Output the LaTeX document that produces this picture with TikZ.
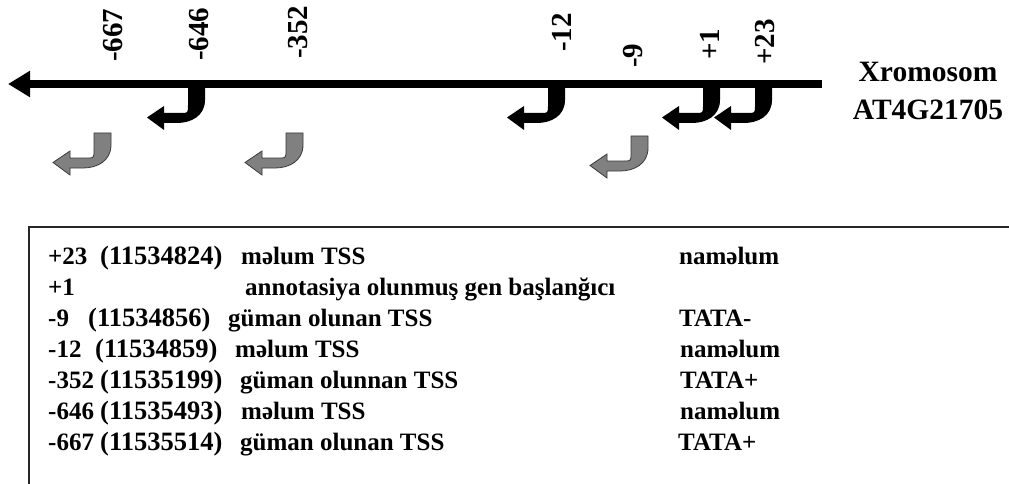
\documentclass[tikz,border=0pt]{standalone}
\usepackage{fontspec}
\setmainfont{Liberation Serif}
\usetikzlibrary{arrows.meta}
\definecolor{tssgrey}{HTML}{808080}
\definecolor{tssedge}{HTML}{3A3A3A}
\newcommand\tssshape[1]{(-17,#1) -- (0,#1) -- (0,12) .. controls (0,28) and (-14,35) .. (-28,35) -- (-41,35) -- (-41,42) -- (-58,29.5) -- (-41,18) -- (-41,25) -- (-24,25) .. controls (-17,25) .. (-17,17) -- cycle}
\tikzset{
  tssblack/.pic={\fill[black] \tssshape{-3};},
  tssgray/.pic={\filldraw[fill=tssgrey, draw=tssedge, line width=0.8pt] \tssshape{0};},
  poslabel/.style={rotate=90, anchor=west, inner sep=0pt, font=\bfseries\fontsize{29}{31}\selectfont},
  chrlabel/.style={anchor=base, inner sep=0pt, font=\bfseries\fontsize{29.5}{32}\selectfont},
  cell/.style={anchor=base west, inner sep=0pt, font=\bfseries\fontsize{25}{28}\selectfont},
  numcell/.style={cell, font=\bfseries\fontsize{26.5}{28}\selectfont},
}
\begin{document}
\begin{tikzpicture}[x=1pt, y=-1pt]
\useasboundingbox (0,0) rectangle (1009,484);
% bent arrows (TSS)
\pic at (205,88) {tssblack};
\pic at (565,88) {tssblack};
\pic at (720,88) {tssblack};
\pic at (772,88) {tssblack};
\pic at (111,133) {tssgray};
\pic at (303,133) {tssgray};
\pic at (648,136) {tssgray};
% chromosome line
\coordinate (chrR) at (822,84);
\coordinate (chrL) at (8,84);
\draw[line width=8.5pt, -{Triangle[length=22pt, width=25pt]}] (chrR) -- (chrL);
% position labels
\node[poslabel] (l667) at (113,62) {-667};
\node[poslabel] (l646) at (199,61) {-646};
\node[poslabel] (l352) at (298,59) {-352};
\node[poslabel] (l12) at (562,52) {-12};
\node[poslabel] (l9) at (633,68) {-9};
\node[poslabel] (l1) at (710,60) {+1};
\node[poslabel] (l23) at (765,65) {+23};
% chromosome name
\node[chrlabel] (chr1) at (928,82) {Xromosom};
\node[chrlabel] (chr2) at (928,120) {AT4G21705};
% table frame
\coordinate (tbl) at (29,484);
\coordinate (tbc) at (29,227);
\coordinate (tbr) at (1009,227);
\draw[line width=1.4pt, color=black!85] (tbl) -- (tbc) -- (tbr);
% rows
\node[cell] (a1) at (48,264) {+23};
\node[numcell] (b1) at (100,264) {(11534824)};
\node[cell] (c1) at (241,264) {məlum TSS};
\node[cell] (d1) at (679,264) {naməlum};
\node[cell] (a2) at (48,295) {+1};
\node[cell] (c2) at (245,295) {annotasiya olunmuş gen başlanğıcı};
\node[cell] (a3) at (48,326) {-9};
\node[numcell] (b3) at (88,326) {(11534856)};
\node[cell] (c3) at (228,326) {güman olunan TSS};
\node[cell] (d3) at (679,326) {TATA-};
\node[cell] (a4) at (48,357) {-12};
\node[numcell] (b4) at (95,357) {(11534859)};
\node[cell] (c4) at (235,357) {məlum TSS};
\node[cell] (d4) at (680,357) {naməlum};
\node[cell] (a5) at (48,388) {-352};
\node[numcell] (b5) at (100,388) {(11535199)};
\node[cell] (c5) at (240,388) {güman olunnan TSS};
\node[cell] (d5) at (680,388) {TATA+};
\node[cell] (a6) at (48,419) {-646};
\node[numcell] (b6) at (100,419) {(11535493)};
\node[cell] (c6) at (241,419) {məlum TSS};
\node[cell] (d6) at (680,419) {naməlum};
\node[cell] (a7) at (48,450) {-667};
\node[numcell] (b7) at (100,450) {(11535514)};
\node[cell] (c7) at (240,450) {güman olunan TSS};
\node[cell] (d7) at (678,450) {TATA+};
\end{tikzpicture}
\end{document}
